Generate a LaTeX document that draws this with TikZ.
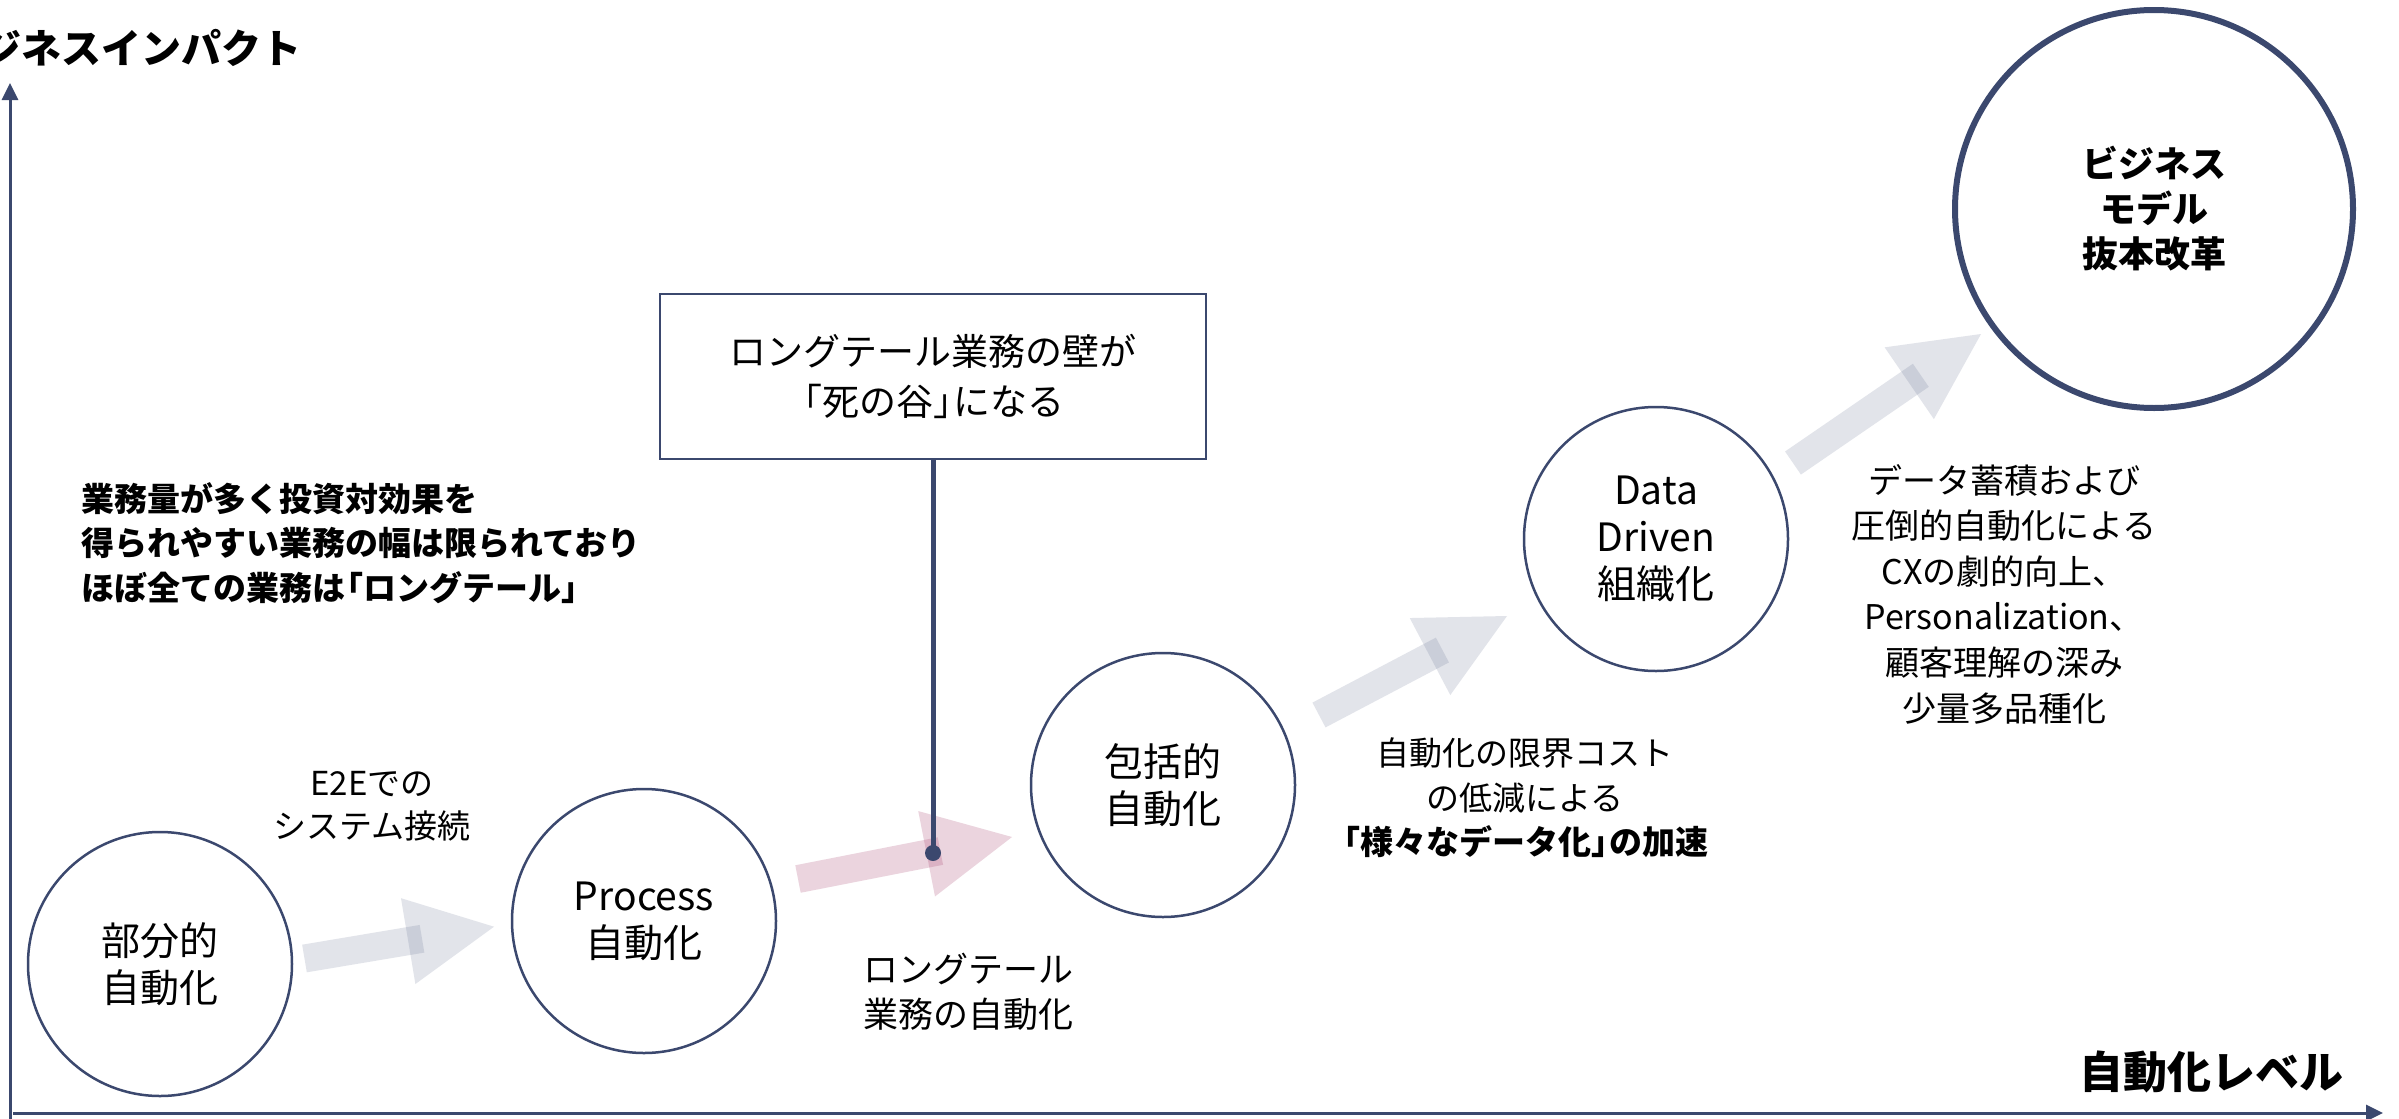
\documentclass[tikz,border=0pt]{standalone}
\usepackage{fontspec}
\setmainfont{Noto Sans CJK JP}
\usetikzlibrary{calc,arrows.meta}
\definecolor{navy}{RGB}{59,72,110}
\definecolor{arrgray}{RGB}{110,120,150}
\definecolor{arrpink}{RGB}{165,60,105}
\newcommand\lbr{\kern-0.45em「}
\newcommand\rbr{」\kern-0.45em}
\newcommand\blockarr[4]{%
  \coordinate (#1s) at ($(#2)!73pt!(#1)$);
  \coordinate (#1b) at ($(#2)!87pt!(#1)$);
  \fill[#3, opacity=#4] ($(#1)!14pt!90:(#2)$) -- ($(#1s)!14pt!90:(#2)$) -- ($(#1s)!14pt!-90:(#2)$) -- ($(#1)!14pt!-90:(#2)$) -- cycle;
  \fill[#3, opacity=#4] ($(#1b)!43.5pt!90:(#2)$) -- (#2) -- ($(#1b)!43.5pt!-90:(#2)$) -- cycle;
}
\begin{document}
\begin{tikzpicture}[x=1pt,y=-1pt,
  stage/.style={circle, draw=navy, line width=2.5pt, minimum size=264pt, inner sep=0pt, align=center, font=\fontsize{39}{47}\selectfont},
  lbl/.style={align=center, inner sep=0pt},
  axis/.style={navy, line width=3pt, -{Triangle[width=16pt,length=17pt]}}]
\clip (0,0) rectangle (2399,1119);
\fill[white] (0,0) rectangle (2399,1119);
% axes
\coordinate (yo) at (10,1125);
\coordinate (ytip) at (10,83);
\coordinate (xo) at (13,1113);
\coordinate (xtip) at (2383,1113);
\draw[axis] (yo) -- (ytip);
\draw[axis] (xo) -- (xtip);
\node[lbl, anchor=east, font=\bfseries\fontsize{40}{48}\selectfont] (ylab) at (302,48) {ビジネスインパクト};
\node[lbl, anchor=east, font=\bfseries\fontsize{44}{50}\selectfont] (xlab) at (2344,1072) {自動化レベル};
% stages
\node[stage] (c1) at (160,964) {部分的\\自動化};
\node[stage] (c2) at (644,921) {Process\\自動化};
\node[stage] (c3) at (1163,785) {包括的\\自動化};
\node[stage] (c4) at (1656,539) {Data\\Driven\\組織化};
\node[stage, line width=6pt, minimum size=398pt, font=\bfseries\fontsize{36}{45}\selectfont] (c5) at (2154,209) {ビジネス\\モデル\\抜本改革};
% block arrows
\coordinate (t1) at (304.5,958.5); \coordinate (p1) at (494,926.7);
\coordinate (t2) at (798,879);     \coordinate (p2) at (1012,837);
\coordinate (t3) at (1319,715);    \coordinate (p3) at (1507,616);
\coordinate (t4) at (1793,463);    \coordinate (p4) at (1981,334);
\blockarr{t1}{p1}{arrgray}{0.2}
\blockarr{t2}{p2}{arrpink}{0.22}
\blockarr{t3}{p3}{arrgray}{0.2}
\blockarr{t4}{p4}{arrgray}{0.2}
% wall box
\node[draw=navy, line width=2.5pt, minimum width=546pt, minimum height=165pt, inner sep=0pt, align=center, font=\fontsize{37}{50}\selectfont] (wall) at (933,376.5) {ロングテール業務の壁が\\\lbr 死の谷\rbr になる};
\coordinate (dot) at (933,853);
\draw[navy, line width=5pt] (wall.south) -- (dot);
\fill[navy] (dot) circle (8);
% texts
\node[lbl, font=\fontsize{33}{43}\selectfont] (e2e) at (372,806) {E2Eでの\\システム接続};
\node[lbl, font=\fontsize{35}{45}\selectfont] (lt) at (968,992) {ロングテール\\業務の自動化};
\node[lbl, align=left, anchor=west, font=\bfseries\fontsize{33}{44.5}\selectfont] (note) at (81,543) {業務量が多く投資対効果を\\得られやすい業務の幅は限られており\\ほぼ全ての業務は\lbr ロングテール\rbr};
\node[lbl, font=\fontsize{33}{44.5}\selectfont] (cost) at (1525,798) {自動化の限界コスト\\の低減による\\\textbf{\lbr 様々なデータ化\rbr の加速}};
\node[lbl, font=\fontsize{34}{45.6}\selectfont] (cx) at (2004,594) {データ蓄積および\\圧倒的自動化による\\CXの劇的向上、\\Personalization、\\顧客理解の深み\\少量多品種化};
\end{tikzpicture}
\end{document}
